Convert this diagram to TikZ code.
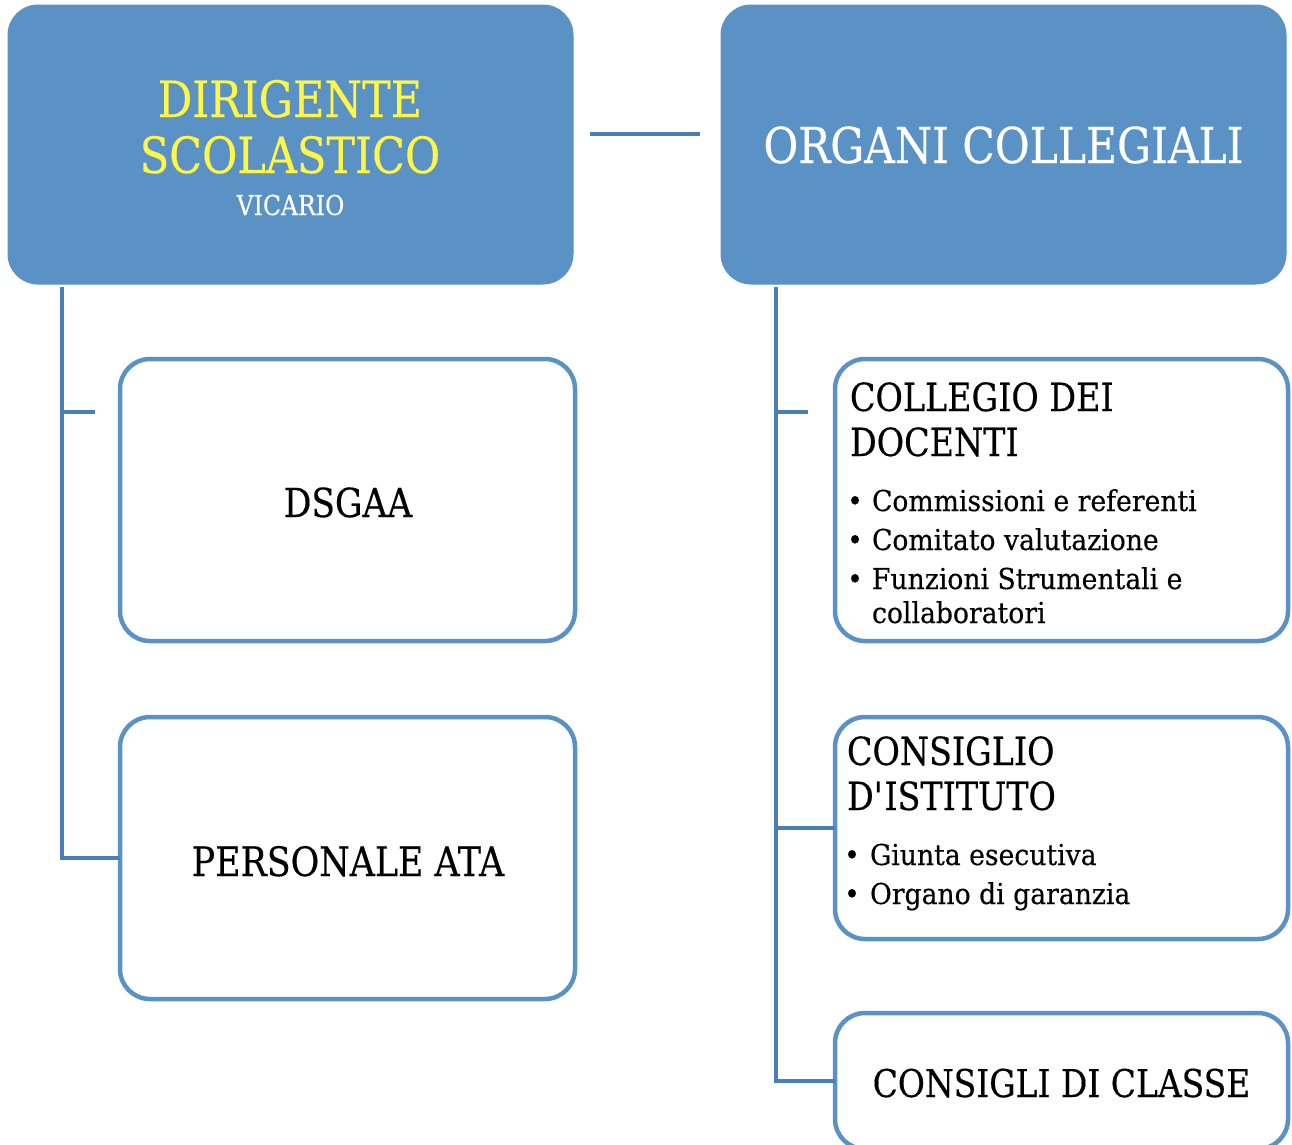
\documentclass[tikz,border=0pt]{standalone}
\usepackage{fontspec}
\setmainfont[FakeStretch=0.86,FakeBold=0.35]{DejaVu Serif}
\newfontfamily\bulfont[FakeStretch=0.925,FakeBold=0.35]{DejaVu Serif}
\definecolor{boxblue}{HTML}{5B92C6}
\definecolor{lineblue}{HTML}{4A7EB8}
\definecolor{diryellow}{HTML}{FFF645}
\tikzset{
  topbox/.style={rectangle, rounded corners=30pt, fill=boxblue, draw=boxblue, line width=1pt, inner sep=0pt, outer sep=0pt},
  subbox/.style={rectangle, rounded corners=30pt, fill=white, draw=boxblue, line width=4.5pt, inner sep=0pt, outer sep=0pt},
  conn/.style={draw=lineblue, line width=4.5pt},
  txt/.style={inner sep=0pt, outer sep=0pt},
  bigtxt/.style={txt, font=\fontsize{50}{56}\selectfont},
  headtxt/.style={txt, anchor=base west, font=\fontsize{38.8}{45}\selectfont},
  itemtxt/.style={txt, anchor=base west, font=\bulfont\fontsize{28.8}{34}\selectfont},
  bultxt/.style={txt, anchor=base, font=\bulfont\fontsize{28.8}{34}\selectfont},
}
\begin{document}
\begin{tikzpicture}[x=1pt,y=-1pt]
\useasboundingbox (0,0) rectangle (1292,1144);
% top boxes
\node[topbox, minimum width=565pt, minimum height=279pt] (dir) at (290.5,144.5) {};
\node[topbox, minimum width=565pt, minimum height=279pt] (org) at (1003.5,144.5) {};
% left sub boxes
\node[subbox, minimum width=455pt, minimum height=282pt] (dsg) at (347.5,500) {};
\node[subbox, minimum width=455pt, minimum height=282pt] (pers) at (347.5,858) {};
% right sub boxes
\node[subbox, minimum width=453pt, minimum height=282pt] (cds) at (1061.5,500) {};
\node[subbox, minimum width=453pt, minimum height=222pt] (cons) at (1061.5,828) {};
\node[subbox, minimum width=453pt, minimum height=136pt] (ccl) at (1061.5,1081) {};
% connectors
\coordinate (t1) at (590,134);
\coordinate (t2) at (700,134);
\draw[conn] (t1) -- (t2);
\coordinate (ltop) at (62,287);
\draw[conn] (ltop) |- (pers.west);
\coordinate (lb1) at (62,412);
\coordinate (lb1e) at (95,412);
\draw[conn] (lb1) -- (lb1e);
\coordinate (rtop) at (776,287);
\draw[conn] (rtop) |- (ccl.west);
\coordinate (rb1) at (776,412);
\coordinate (rb1e) at (808,412);
\draw[conn] (rb1) -- (rb1e);
\coordinate (rb2) at (rtop |- cons.west);
\draw[conn] (rb2) -- (cons.west);
% texts
\node[bigtxt, anchor=base, text=diryellow] (dir1) at (290,117) {DIRIGENTE};
\node[bigtxt, anchor=base, text=diryellow] (dir2) at (290,173) {SCOLASTICO};
\node[txt, anchor=base, text=white, font=\fontsize{27.4}{30}\selectfont] (dir3) at (290.5,215) {VICARIO};
\node[txt, anchor=base, text=white, font=\fontsize{49.4}{56}\selectfont] (org1) at (1003.5,163) {ORGANI COLLEGIALI};
\node[txt, anchor=base, font=\fontsize{40}{46}\selectfont] (dsg1) at (348,517) {DSGAA};
\node[txt, anchor=base, font=\fontsize{40.5}{46}\selectfont] (pers1) at (348,876) {PERSONALE ATA};
\node[headtxt] (cds1) at (850,411) {COLLEGIO DEI};
\node[headtxt] (cds2) at (850,456) {DOCENTI};
\node[bultxt] (cdb1) at (855,511) {\textbullet};
\node[itemtxt] (cdi1) at (872,511) {Commissioni e referenti};
\node[bultxt] (cdb2) at (855,550) {\textbullet};
\node[itemtxt] (cdi2) at (872,550) {Comitato valutazione};
\node[bultxt] (cdb3) at (855,589) {\textbullet};
\node[itemtxt] (cdi3) at (872,589) {Funzioni Strumentali e};
\node[itemtxt] (cdi4) at (872,623) {collaboratori};
\node[headtxt] (cons1) at (847,765) {CONSIGLIO};
\node[headtxt] (cons2) at (847,810) {D\textquotesingle ISTITUTO};
\node[bultxt] (cob1) at (852,865) {\textbullet};
\node[itemtxt] (coi1) at (870,865) {Giunta esecutiva};
\node[bultxt] (cob2) at (852,904) {\textbullet};
\node[itemtxt] (coi2) at (870,904) {Organo di garanzia};
\node[txt, anchor=base, font=\fontsize{38.3}{44}\selectfont] (ccl1) at (1061.5,1097) {CONSIGLI DI CLASSE};
\end{tikzpicture}
\end{document}
